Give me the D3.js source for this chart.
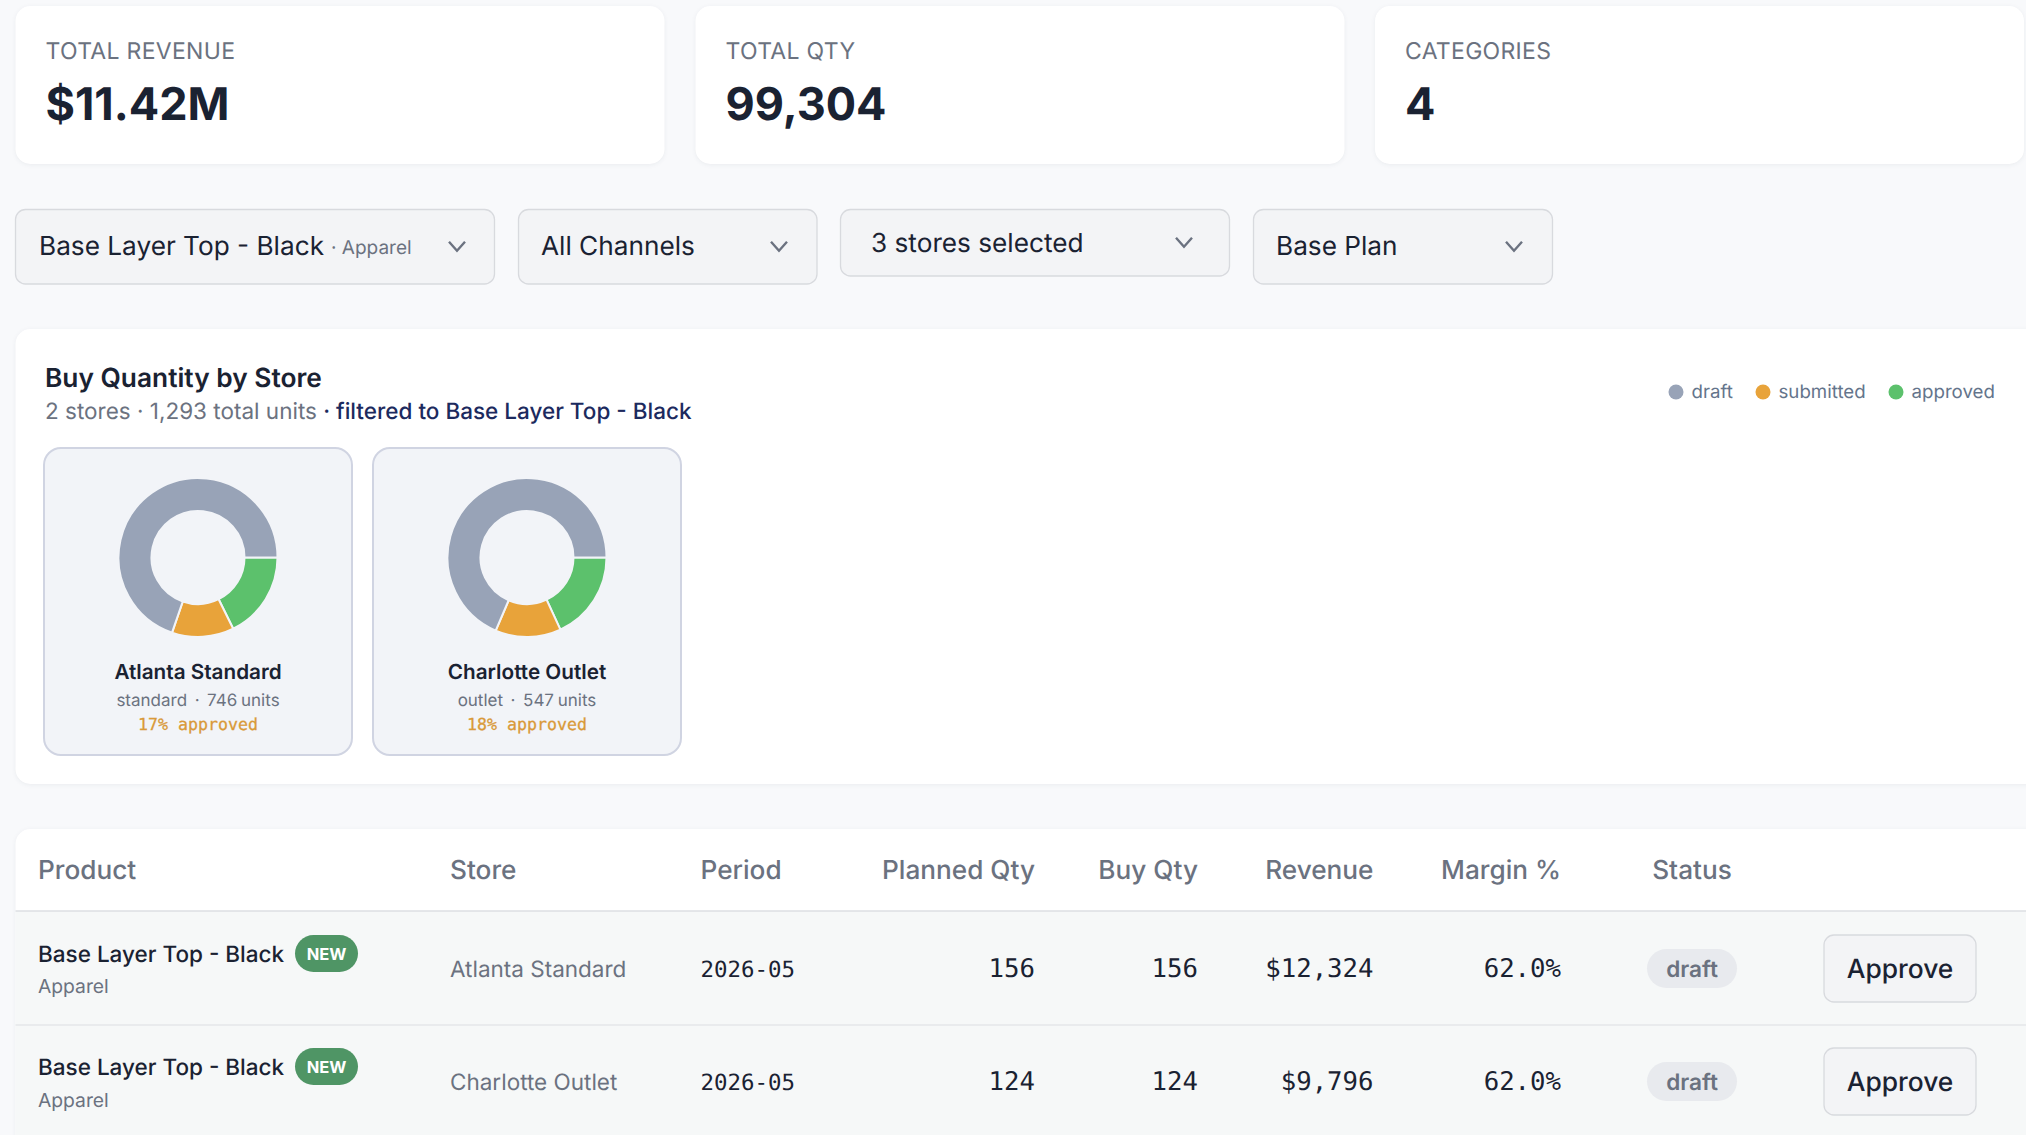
<!DOCTYPE html>
<html>
<head>
<meta charset="utf-8">
<script src="https://cdn.jsdelivr.net/npm/d3@7"></script>
<style>
html,body{margin:0;padding:0;background:#f8f9fb;overflow:hidden}
svg{display:block;font-family:Inter,sans-serif;text-rendering:geometricPrecision}
.card{filter:drop-shadow(0 1px 2px rgba(20,30,50,.06))}
.mono{font-family:"DejaVu Sans Mono",monospace}
</style>
</head>
<body>
<svg width="2026" height="1135"></svg>
<script>
// values
let kpiLabels   = ["TOTAL REVENUE","TOTAL QTY","CATEGORIES"],
    kpiValues   = ["$11.42M","99,304","4"],
    statusKeys  = ["approved","submitted","draft"],
    legendKeys  = ["draft","submitted","approved"],
    statusColors = ["#5cc16c","#e8a33a","#98a3b7"],
    storeNames  = ["Atlanta Standard","Charlotte Outlet"],
    storeTypes  = ["standard","outlet"],
    storeUnits  = [746,547],
    storeApproved = [132,99],
    storeSubmitted = [94,73],
    storeDraft  = [520,375],
    storePct    = [17,18],
    headers     = ["Product","Store","Period","Planned Qty","Buy Qty","Revenue","Margin %","Status"],
    products    = ["Base Layer Top - Black","Base Layer Top - Black"],
    categories  = ["Apparel","Apparel"],
    periods     = ["2026-05","2026-05"],
    plannedQty  = [156,124],
    buyQty      = [156,124],
    revenue     = [12324,9796],
    margin      = [62.0,62.0],
    statuses    = ["draft","draft"];

let svg = d3.select("svg"),
    colorScale = d3.scaleOrdinal().domain(statusKeys).range(statusColors),
    ink = "#1a2232", grey = "#6b7280";

function label(g,x,y,str,size,fill,weight,anchor){
  return g.append("text").attr("x",x).attr("y",y).text(str)
    .attr("font-size",size).attr("fill",fill)
    .attr("font-weight",weight||400).attr("text-anchor",anchor||"start");
}

// kpi cards
let kpiX = [15.5,695.5,1375];
kpiLabels.forEach((d,i)=>{
  svg.append("rect").attr("class","card").attr("x",kpiX[i]).attr("y",6).attr("width",649).attr("height",158).attr("rx",15).attr("fill","#fff");
  label(svg,kpiX[i]+30,59,d,23,grey).attr("letter-spacing",0.3);
  label(svg,kpiX[i]+30,120,kpiValues[i],45,ink,700);
});

// filter boxes
let selects = [
  {x:15.5,w:479,h:74.5,text:"Base Layer Top - Black",sub:"· Apparel",tx:39,base:255,chev:457},
  {x:518.5,w:298.5,h:74.5,text:"All Channels",tx:541,base:255,chev:779},
  {x:840.5,w:389,h:66.5,text:"3 stores selected",tx:871,base:252,chev:1184},
  {x:1253.5,w:299,h:74.5,text:"Base Plan",tx:1276,base:255,chev:1514}
];
selects.forEach(s=>{
  svg.append("rect").attr("x",s.x).attr("y",209.5).attr("width",s.w).attr("height",s.h).attr("rx",10)
    .attr("fill","#f3f4f6").attr("stroke","#d8dade").attr("stroke-width",1.3);
  label(svg,s.tx,s.base,s.text,26.2,ink);
  if(s.sub) label(svg,331,s.base-1,s.sub,19,grey);
  let cy = 209+s.h/2;
  svg.append("path").attr("d",d3.line()([[s.chev-8,cy-4.5],[s.chev,cy+4.5],[s.chev+8,cy-4.5]]))
    .attr("fill","none").attr("stroke",grey).attr("stroke-width",2.4);
});

// chart card
svg.append("rect").attr("class","card").attr("x",15.5).attr("y",329).attr("width",2030).attr("height",455).attr("rx",15).attr("fill","#fff");
label(svg,45,387,"Buy Quantity by Store",26.3,ink,600);
let sub = label(svg,45,419,"",22.5,grey);
sub.append("tspan").text("2 stores · "+d3.format(",")(d3.sum(storeUnits))+" total units ");
sub.append("tspan").attr("fill","#1c2a5e").attr("font-weight",500).text("· filtered to "+products[0]);

// legend
let legendDot = [1676,1763,1896];
legendKeys.forEach((d,i)=>{
  svg.append("circle").attr("cx",legendDot[i]).attr("cy",392).attr("r",7.5).attr("fill",colorScale(d));
  label(svg,legendDot[i]+15.5,398,d,18.7,"#64748b");
});

// store tiles
let tileX = [44,373],
    pie = d3.pie().sort(null).startAngle(Math.PI/2).endAngle(Math.PI*2.5),
    arc = d3.arc().innerRadius(46.5).outerRadius(79.5);
storeNames.forEach((name,i)=>{
  let g = svg.append("g").attr("transform",`translate(${tileX[i]},448)`);
  g.append("rect").attr("width",308).attr("height",307).attr("rx",17).attr("fill","#f2f4f8").attr("stroke","#d0d4e2").attr("stroke-width",2);
  g.append("g").attr("transform","translate(154,109.5)").selectAll("path")
    .data(pie([storeApproved[i],storeSubmitted[i],storeDraft[i]]))
    .join("path").attr("d",arc)
    .attr("fill",(d,j)=>colorScale(statusKeys[j]))
    .attr("stroke","#f2f4f8").attr("stroke-width",2);
  label(g,154,231,name,20.7,ink,600,"middle");
  label(g,154,258,storeTypes[i]+"  ·  "+storeUnits[i]+" units",17,grey,400,"middle")
    .style("white-space","pre").attr("word-spacing",-1);
  label(g,154,282,storePct[i]+"% approved",16.6,"#d99a3a",400,"middle").attr("class","mono")
    .attr("stroke","#d99a3a").attr("stroke-width",0.3);
});

// table
svg.append("rect").attr("class","card").attr("x",15.5).attr("y",829).attr("width",2030).attr("height",330).attr("rx",15).attr("fill","#fff");
let headX = [38,450,700.5,1035,1198,1373.5,1561,1692],
    headAnchor = ["start","start","start","end","end","end","end","middle"];
headers.forEach((d,i)=>{
  label(svg,headX[i],879,d,26.2,grey,500,headAnchor[i]);
});
svg.append("rect").attr("x",15.5).attr("y",911).attr("width",2011).attr("height",224).attr("fill","#f6f8f8");
svg.append("line").attr("x1",15.5).attr("x2",2026).attr("y1",911).attr("y2",911).attr("stroke","#dcdfe3").attr("stroke-width",1.6);
svg.append("line").attr("x1",15.5).attr("x2",2026).attr("y1",1025).attr("y2",1025).attr("stroke","#e4e7ea").attr("stroke-width",1.4);

let rowTop = [911,1024];
products.forEach((p,i)=>{
  let g = svg.append("g").attr("transform",`translate(0,${rowTop[i]})`);
  label(g,38,51,p,22.5,ink,500);
  g.append("rect").attr("x",295).attr("y",24).attr("width",63).attr("height",37).attr("rx",18.5).attr("fill","#4f9565");
  label(g,326.5,49,"NEW",16.5,"#fff",700,"middle");
  label(g,38,82+i,categories[i],19.3,grey);
  label(g,450,66,storeNames[i],22.5,grey);
  label(g,700.5,66,periods[i],22.4,ink).attr("class","mono");
  label(g,1035,66,plannedQty[i],25.7,ink,400,"end").attr("class","mono");
  label(g,1198,66,buyQty[i],25.7,ink,400,"end").attr("class","mono");
  label(g,1373.5,66,d3.format("$,")(revenue[i]),25.7,ink,400,"end").attr("class","mono");
  label(g,1561,66,margin[i].toFixed(1)+"%",25.7,ink,400,"end").attr("class","mono");
  g.append("rect").attr("x",1647).attr("y",38).attr("width",90).attr("height",39).attr("rx",19.5).attr("fill","#e8eaee");
  label(g,1692,66,statuses[i],22.6,grey,600,"middle");
  g.append("rect").attr("x",1824).attr("y",24).attr("width",152).attr("height",67).attr("rx",10)
    .attr("fill","#f3f4f6").attr("stroke","#d8dade").attr("stroke-width",1.3);
  label(g,1900,67,"Approve",26.4,ink,500,"middle");
});
</script>
</body>
</html>
